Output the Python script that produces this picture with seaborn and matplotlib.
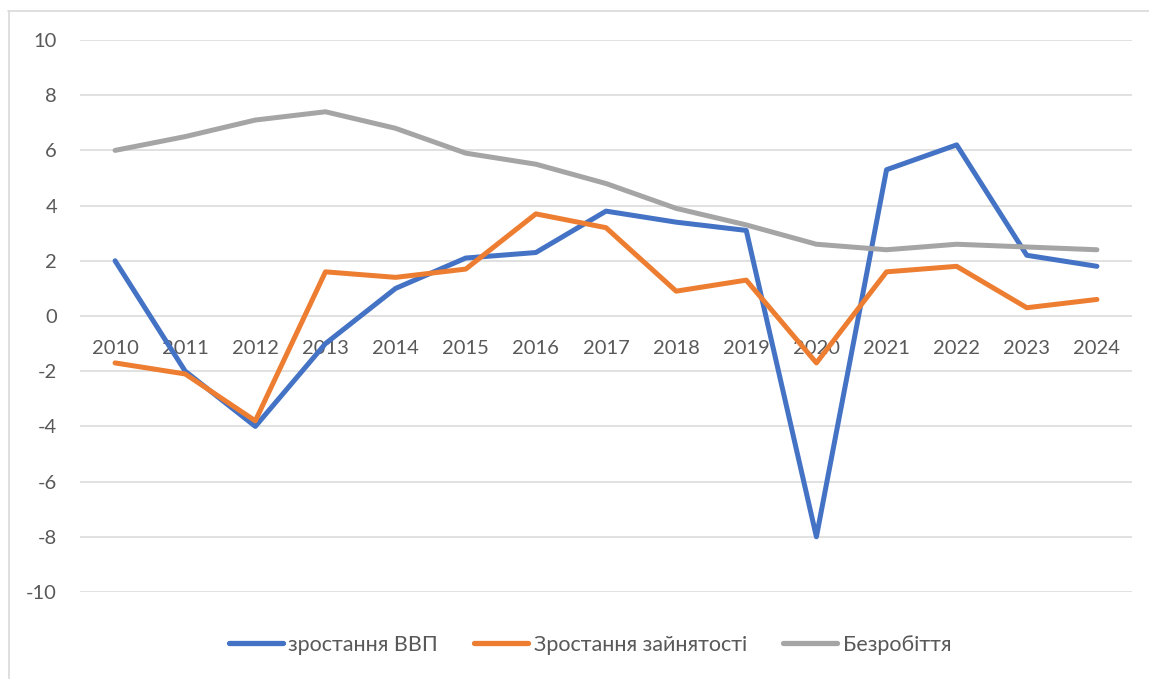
import matplotlib.pyplot as plt
import pandas as pd
import seaborn as sns
from matplotlib.lines import Line2D

years = [str(y) for y in range(2010, 2025)]
gdp_growth = [2.0, -2.0, -4.0, -1.0, 1.0, 2.1, 2.3, 3.8, 3.4, 3.1, -8.0, 5.3, 6.2, 2.2, 1.8]
employment_growth = [-1.7, -2.1, -3.8, 1.6, 1.4, 1.7, 3.7, 3.2, 0.9, 1.3, -1.7, 1.6, 1.8, 0.3, 0.6]
unemployment = [6.0, 6.5, 7.1, 7.4, 6.8, 5.9, 5.5, 4.8, 3.9, 3.3, 2.6, 2.4, 2.6, 2.5, 2.4]

series_names = ["зростання ВВП", "Зростання зайнятості", "Безробіття"]
colors = ["#4472C4", "#ED7D31", "#A5A5A5"]
y_ticks = list(range(-10, 11, 2))

df = pd.DataFrame({
    "year": years * 3,
    "value": gdp_growth + employment_growth + unemployment,
    "series": [series_names[0]] * 15 + [series_names[1]] * 15 + [series_names[2]] * 15,
})

sns.set_theme(style="white")
plt.rcParams["font.family"] = ["Lato", "DejaVu Sans"]

W, H = 1149, 679
fig = plt.figure(figsize=(W / 100, H / 100), dpi=100)
ax = fig.add_axes([80 / W, 1 - 592 / H, (1132 - 80) / W, (592 - 40) / H])

# Excel-style light horizontal gridlines
for y in y_ticks:
    ax.axhline(y, color="#D9D9D9", lw=1.1, zorder=0)

sns.lineplot(data=df, x="year", y="value", hue="series", palette=colors,
             hue_order=series_names, sort=False, lw=3.6, ax=ax, legend=False,
             solid_capstyle="round", solid_joinstyle="round")

ax.set_xlim(-0.5, 14.5)
ax.set_ylim(-10, 10)
ax.set_yticks(y_ticks)
ax.set_yticklabels([str(t) for t in y_ticks])
ax.set_xlabel("")
ax.set_ylabel("")
for s in ax.spines.values():
    s.set_visible(False)
# category labels sit at the zero line, like in Excel
ax.spines["bottom"].set_position(("data", 0))
ax.tick_params(axis="x", length=0, pad=17, labelsize=14.5, labelcolor="#595959")
ax.tick_params(axis="y", length=0, pad=16.5, labelsize=14.5, labelcolor="#595959")

handles = [Line2D([0], [0], color=c, lw=3.8, solid_capstyle="round") for c in colors]
fig.legend(handles, series_names, loc="center", bbox_to_anchor=(590 / W, 1 - 645 / H),
           ncol=3, frameon=False, fontsize=15.5, handlelength=2.5, handletextpad=0.25,
           columnspacing=1.7, labelcolor="#595959")

# chart-area border (top and left visible in the crop)
fig.add_artist(Line2D([8 / W, 1.0], [1 - 10.5 / H, 1 - 10.5 / H], color="#D9D9D9", lw=1.2))
fig.add_artist(Line2D([8.5 / W, 8.5 / W], [0.0, 1 - 10.5 / H], color="#D9D9D9", lw=1.2))

fig.savefig("out.png", dpi=100, facecolor="white")
